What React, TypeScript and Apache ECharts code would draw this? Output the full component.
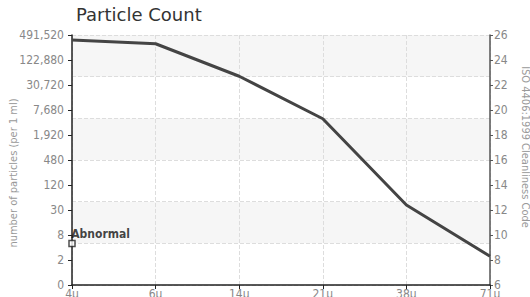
import React, { useEffect, useRef } from "react";
import * as echarts from "echarts";

const CATEGORIES = ["4\u03bc", "6\u03bc", "14\u03bc", "21\u03bc", "38\u03bc", "71\u03bc"];
const ISO_CODES = [25.6, 25.3, 22.7, 19.3, 12.4, 8.3];
const LEFT_LABELS = ["0", "2", "8", "30", "120", "480", "1,920", "7,680", "30,720", "122,880", "491,520"];
const ABNORMAL_POINT = [0, 9.33];
const ABNORMAL_LABEL = "Abnormal";

const COND = "'DejaVu Sans Condensed', 'Liberation Sans Narrow', 'Roboto', sans-serif";

export default function App() {
  const ref = useRef<HTMLDivElement>(null);
  useEffect(() => {
    if (!ref.current) return;
    const chart = echarts.init(ref.current, undefined, { renderer: "svg" });
    chart.setOption({
      animation: false,
      title: {
        text: "Particle Count",
        left: 71,
        top: 0,
        textStyle: { fontFamily: "'DejaVu Sans', sans-serif", fontSize: 18, fontWeight: "normal", color: "#333" },
      },
      grid: { left: 72, right: 40, top: 35, bottom: 12, containLabel: false, outerBoundsMode: "none" },
      xAxis: {
        type: "category",
        data: CATEGORIES,
        boundaryGap: false,
        axisLine: { lineStyle: { color: "#222", width: 1.5 } },
        axisTick: { show: true, length: 4, lineStyle: { color: "#222" } },
        axisLabel: { color: "#888", fontFamily: COND, fontSize: 12, margin: 3 },
        splitLine: { show: true, lineStyle: { color: "#ddd", type: "dashed" } },
      },
      yAxis: [
        {
          type: "value",
          position: "left",
          min: 0,
          max: 10,
          interval: 1,
          name: "number of particles (per 1 ml)",
          nameLocation: "middle",
          nameRotate: 90,
          nameGap: 53,
          nameMoveOverlap: false,
          nameTextStyle: { color: "#999", fontFamily: COND, fontSize: 11, padding: [0, 26, 0, 0] },
          axisLine: { show: true, lineStyle: { color: "#222", width: 1.5 } },
          axisTick: { show: true, length: 4, lineStyle: { color: "#222" } },
          axisLabel: {
            color: "#888",
            fontFamily: COND,
            fontSize: 12,
            margin: 8,
            formatter: (v: number) => LEFT_LABELS[Math.round(v)] ?? "",
          },
          splitLine: { show: false },
        },
        {
          type: "value",
          position: "right",
          min: 6,
          max: 26,
          interval: 2,
          name: "ISO 4406:1999 Cleanliness Code",
          nameLocation: "middle",
          nameRotate: -90,
          nameGap: 30,
          nameMoveOverlap: false,
          nameTextStyle: { color: "#999", fontFamily: COND, fontSize: 11, padding: [0, 26, 0, 0] },
          axisLine: { show: true, lineStyle: { color: "#555", width: 1.5 } },
          axisTick: { show: true, length: 3, lineStyle: { color: "#555" } },
          axisLabel: { color: "#888", fontFamily: COND, fontSize: 12, margin: 4 },
          splitLine: { show: false },
        },
        {
          type: "value",
          position: "left",
          min: 0,
          max: 6,
          interval: 1,
          axisLine: { show: false },
          axisTick: { show: false },
          axisLabel: { show: false },
          splitLine: { show: true, lineStyle: { color: "#ddd", type: "dashed" } },
          splitArea: { show: true, areaStyle: { color: ["#ffffff", "#f6f6f6"] } },
        },
      ],
      series: [
        {
          type: "line",
          yAxisIndex: 1,
          data: ISO_CODES,
          symbol: "none",
          lineStyle: { color: "#444", width: 3 },
          z: 3,
        },
        {
          type: "scatter",
          yAxisIndex: 1,
          data: [ABNORMAL_POINT],
          symbol: "rect",
          symbolSize: 6,
          itemStyle: { color: "#fff", borderColor: "#222", borderWidth: 1.5 },
          label: {
            show: true,
            formatter: ABNORMAL_LABEL,
            position: [3, 0],
            align: "left",
            verticalAlign: "bottom",
            color: "#111",
            fontWeight: "bold",
            fontFamily: COND,
            fontSize: 12,
          },
          z: 4,
        },
      ],
    });
    return () => chart.dispose();
  }, []);
  return <div ref={ref} style={{ width: 530, height: 297, position: "absolute", left: 0, top: 0 }} />;
}
